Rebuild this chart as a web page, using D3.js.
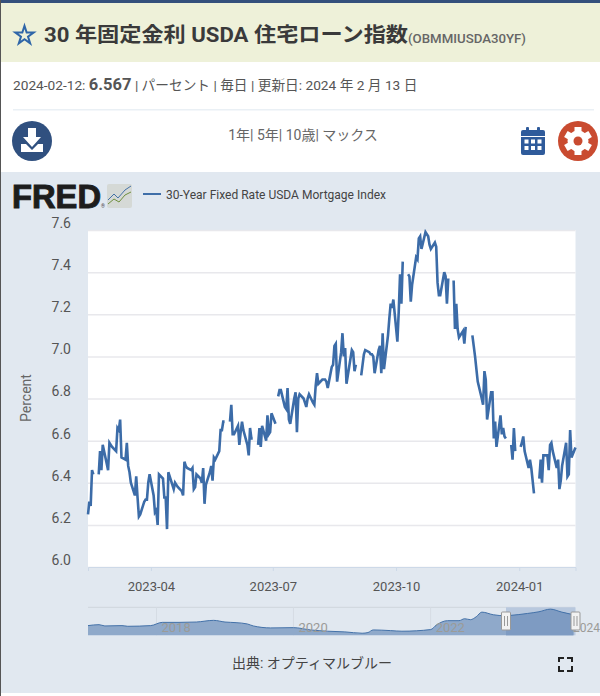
<!DOCTYPE html>
<html>
<head>
<meta charset="utf-8">
<script src="https://cdn.jsdelivr.net/npm/d3@7"></script>
<style>
  html, body { margin: 0; padding: 0; background: #fff; }
  svg { display: block; font-family: Roboto, "Noto Sans CJK JP", sans-serif; }
  .tick text { font-family: Roboto, "Noto Sans CJK JP", sans-serif; }
</style>
</head>
<body>
<svg id="chart" width="600" height="696"></svg>
<script>
// weekdays from 2023-02-13 to 2024-02-12, null = market holiday (gap in the line)
const rateValues = [
  6.25, 6.31, 6.29, 6.46, 6.44,
  null, 6.44, 6.55, 6.46, 6.58,
  6.49, 6.46, 6.59, 6.58, 6.57,
  6.55, 6.66, 6.65, 6.70, 6.52,
  6.51, 6.59, 6.48, 6.45, 6.40,
  6.34, 6.43, 6.33, 6.24, 6.25,
  6.31, 6.32, 6.32, 6.40, 6.44,
  6.34, 6.26, 6.27, 6.20, 6.44,
  6.42, 6.33, 6.33, 6.18, 6.45,
  6.39, 6.37, 6.40, 6.39, 6.38,
  6.36, 6.34, 6.50, 6.48, 6.47,
  6.46, 6.47, 6.37, 6.38, 6.44,
  6.42, 6.40, 6.47, 6.30, 6.39,
  6.45, 6.48, 6.41, 6.52, 6.51,
  6.55, 6.65, 6.65, 6.69, 6.69,
  null, 6.69, 6.77, 6.63, 6.63,
  6.67, 6.58, 6.64, 6.69, 6.65,
  6.58, 6.53, 6.66, 6.61, 6.61,
  null, 6.58, 6.66, 6.57, 6.67,
  6.60, 6.72, 6.63, 6.64, 6.73,
  6.68, null, 6.81, 6.84, 6.84,
  6.76, 6.75, 6.85, 6.70, 6.68,
  6.80, 6.83, 6.64, 6.80, 6.82,
  6.80, 6.78, 6.76, 6.80, 6.82,
  6.78, 6.77, 6.86, 6.92, 6.87,
  6.89, 6.89, 6.89, 6.88, 6.85,
  6.95, 6.96, 7.05, 7.06, 6.88,
  7.02, 7.11, 7.00, 7.04, 6.87,
  6.99, 7.03, 7.02, 6.93, 6.96,
  null, 6.91, 6.96, 7.01, 7.03,
  7.02, 7.01, 7.01, 7.00, 6.92,
  7.03, 7.05, 6.92, 7.11, 6.94,
  7.10, 7.18, 7.25, 7.23, 7.27,
  7.07, 7.21, 7.39, 7.25, 7.45,
  null, 7.39, 7.38, 7.26, 7.34,
  7.47, 7.46, 7.56, 7.57, 7.51,
  7.59, 7.58, 7.57, 7.53, 7.51,
  7.54, 7.52, 7.35, 7.29, 7.29,
  7.40, 7.38, 7.25, 7.37, null,
  7.36, 7.13, 7.25, 7.13, 7.09,
  7.12, 7.06, 7.14, null, null,
  7.10, 7.05, 7.00, 6.94, 6.88,
  6.80, 6.77, 6.93, 6.89, 6.70,
  6.83, 6.83, 6.61, 6.69, 6.57,
  6.72, 6.63, 6.66, 6.62, 6.61,
  null, 6.58, 6.51, 6.66, 6.55,
  null, 6.57, 6.59, 6.62, 6.55,
  6.47, 6.51, 6.47, 6.41, 6.35,
  null, 6.42, 6.51, 6.40, 6.53,
  6.53, 6.46, 6.58, 6.59, 6.55,
  6.47, 6.51, 6.37, 6.41, 6.48,
  6.59, 6.43, 6.44, 6.65, 6.52,
  6.567
];
const yTicks = [6.0, 6.2, 6.4, 6.6, 6.8, 7.0, 7.2, 7.4, 7.6];
const xTicks = ["2023-04-01", "2023-07-01", "2023-10-01", "2024-01-01"];

// overview strip under the chart
const navDates = ["2017-01", "2017-03", "2017-04", "2017-07", "2017-08", "2017-12", "2018-02", "2018-05",
  "2018-08", "2018-11", "2019-01", "2019-03", "2019-05", "2019-06", "2019-09", "2020-01", "2020-04",
  "2020-07", "2020-10", "2021-01", "2021-02", "2021-03", "2021-06", "2021-08", "2022-01", "2022-02",
  "2022-04", "2022-06", "2022-07", "2022-08", "2022-09", "2022-10", "2022-12", "2023-02", "2023-03",
  "2023-06", "2023-08", "2023-10", "2023-12", "2024-02"];
const navValues = [4.63, 4.80, 4.57, 4.63, 4.51, 4.63, 5.21, 5.21,
  5.27, 5.57, 5.27, 5.16, 4.92, 4.57, 4.22, 4.27, 3.86,
  3.63, 3.51, 3.27, 3.39, 3.86, 3.74, 3.63, 3.92, 4.74,
  5.51, 5.51, 5.86, 5.69, 6.21, 7.04, 6.57, 6.39, 6.45,
  6.80, 7.10, 7.57, 7.04, 6.57];
const navYears = [2018, 2020, 2022, 2024];

const parseDay = d3.timeParse("%Y-%m-%d");
const parseMonth = d3.timeParse("%Y-%m");

const firstDay = parseDay("2023-02-13");
const lastDay = parseDay("2024-02-12");
const weekdays = d3.timeDay.range(firstDay, d3.timeDay.offset(lastDay, 1))
  .filter(d => d.getDay() !== 0 && d.getDay() !== 6);
const rates = weekdays.map((d, i) => ({ date: d, value: rateValues[i] }));
const nav = navDates.map((d, i) => ({ date: parseMonth(d), value: navValues[i] }));

const margin = { top: 230, left: 88, right: 24.5, bottom: 129 };
const width = 600;
const height = 696;

const svg = d3.select("#chart");

// page blocks
svg.append("rect").attr("width", width).attr("height", 3).attr("fill", "#34507c");
svg.append("rect").attr("y", 3).attr("width", width).attr("height", 59).attr("fill", "#eef1d9");
svg.append("rect").attr("y", 172).attr("width", width).attr("height", 521).attr("fill", "#e1e8f0");
svg.append("rect").attr("y", 0).attr("width", 1).attr("height", 696).attr("fill", "#555");
svg.append("rect").attr("x", 13).attr("y", 109).attr("width", 581).attr("height", 1.5).attr("fill", "#eaf0f5");

// title row
svg.append("path")
  .attr("d", d3.symbol(d3.symbolStar, 105))
  .attr("transform", "translate(24.5,35.5)")
  .attr("fill", "none").attr("stroke", "#2f66a8").attr("stroke-width", 2);
svg.append("text").attr("x", 44).attr("y", 42)
  .attr("font-size", 20.5).attr("font-weight", 700).attr("fill", "#3a3a3a")
  .attr("textLength", 364).attr("lengthAdjust", "spacingAndGlyphs")
  .text("30 年固定金利 USDA 住宅ローン指数");
svg.append("text").attr("x", 408).attr("y", 43)
  .attr("font-size", 13).attr("font-weight", 500).attr("fill", "#666")
  .attr("textLength", 118).attr("lengthAdjust", "spacingAndGlyphs")
  .text("(OBMMIUSDA30YF)");

const info = svg.append("text").attr("x", 13).attr("y", 90).attr("font-size", 13.7).attr("fill", "#555");
info.append("tspan").text("2024-02-12: ");
info.append("tspan").attr("font-size", 16.5).attr("font-weight", 700).text("6.567");
info.append("tspan").text(" | パーセント | 毎日 | 更新日: 2024 年 2 月 13 日");

svg.append("text").attr("x", 303).attr("y", 140).attr("text-anchor", "middle")
  .attr("font-size", 14).attr("fill", "#666").text("1年| 5年| 10歳| マックス");

// download icon
const dl = svg.append("g").attr("transform", "translate(32,141)");
dl.append("circle").attr("r", 20).attr("fill", "#30507f");
dl.append("path").attr("d", "M-4,-13H4V-4H9L0,6L-9,-4H-4Z").attr("fill", "#fff");
dl.append("path").attr("d", "M-11,3H-6L0,9L6,3H11V11H-11Z").attr("fill", "#fff");

// calendar icon
const cal = svg.append("g").attr("transform", "translate(521,127)");
cal.append("rect").attr("y", 3).attr("width", 24).attr("height", 25).attr("rx", 2).attr("fill", "#2f5b9b");
cal.selectAll("rect.peg").data([5, 16]).join("rect").attr("class", "peg")
  .attr("x", d => d).attr("width", 3).attr("height", 6).attr("rx", 1).attr("fill", "#2f5b9b");
cal.append("rect").attr("x", 0).attr("y", 9).attr("width", 24).attr("height", 1).attr("fill", "#fff");
d3.cross([3.5, 10, 16.5], [12.5, 19]).forEach(([x, y]) => {
  cal.append("rect").attr("x", x).attr("y", y).attr("width", 4).attr("height", 4).attr("fill", "#fff");
});

// settings icon
const gear = svg.append("g").attr("transform", "translate(578,141)");
gear.append("circle").attr("r", 20).attr("fill", "#c94b30");
d3.range(3).forEach(i => {
  gear.append("rect").attr("x", -3.5).attr("y", -14).attr("width", 7).attr("height", 28)
    .attr("fill", "#fff").attr("transform", `rotate(${i * 60})`);
});
gear.append("circle").attr("r", 10.5).attr("fill", "#fff");
gear.append("circle").attr("r", 4.5).attr("fill", "#c94b30");

// FRED logo + legend
svg.append("text").attr("x", 12).attr("y", 208)
  .attr("font-family", "'Liberation Sans', sans-serif")
  .attr("font-size", 33).attr("font-weight", 700).attr("fill", "#1d1d1d")
  .attr("stroke", "#1d1d1d").attr("stroke-width", 1)
  .attr("textLength", 89).attr("lengthAdjust", "spacingAndGlyphs").text("FRED");
svg.append("text").attr("x", 101).attr("y", 208).attr("font-size", 5).attr("fill", "#444").text("®");
const logo = svg.append("g").attr("transform", "translate(107,184)");
logo.append("rect").attr("width", 25).attr("height", 24).attr("rx", 2).attr("fill", "#d5d9d6");
logo.append("path").attr("d", "M1,16L7,10L11,14L18,6L24,2").attr("fill", "none").attr("stroke", "#4572a7");
logo.append("path").attr("d", "M1,20L7,15L12,18L18,11L24,8").attr("fill", "none").attr("stroke", "#6f8f3f");

svg.append("line").attr("x1", 143).attr("x2", 161).attr("y1", 194).attr("y2", 194)
  .attr("stroke", "#3f6ea8").attr("stroke-width", 2);
svg.append("text").attr("x", 166).attr("y", 198.5).attr("font-size", 13).attr("fill", "#444")
  .attr("textLength", 220).attr("lengthAdjust", "spacingAndGlyphs")
  .text("30-Year Fixed Rate USDA Mortgage Index");

// main plot
const xScale = d3.scaleTime()
  .domain([firstDay, lastDay])
  .range([margin.left, width - margin.right]);
const yScale = d3.scaleLinear()
  .domain([6, 7.6])
  .range([height - margin.bottom, margin.top]);

svg.append("rect")
  .attr("x", margin.left).attr("y", margin.top)
  .attr("width", width - margin.left - margin.right)
  .attr("height", height - margin.top - margin.bottom)
  .attr("fill", "#fff");

const yAxis = svg.append("g")
  .attr("transform", "translate(" + margin.left + ",0)")
  .call(d3.axisLeft(yScale).tickValues(yTicks).tickFormat(d3.format(".1f"))
    .tickSize(-(width - margin.left - margin.right)).tickPadding(17));
yAxis.select(".domain").remove();
yAxis.selectAll(".tick line").attr("stroke", "#e8e8ec").attr("stroke-width", 1.5);
yAxis.selectAll(".tick text").attr("dy", "-0.18em").attr("font-size", 14).attr("fill", "#555");

const xAxis = svg.append("g")
  .attr("transform", "translate(0," + (height - margin.bottom) + ")")
  .call(d3.axisBottom(xScale).tickValues(xTicks.map(parseDay)).tickFormat(d3.timeFormat("%Y-%m"))
    .tickSize(4).tickPadding(11));
xAxis.select(".domain").attr("stroke", "#cdd9e8");
xAxis.selectAll(".tick line").attr("stroke", "#cdd9e8");
xAxis.selectAll(".tick text").attr("font-size", 13).attr("fill", "#555");

svg.append("text")
  .attr("transform", "translate(31,398) rotate(-90)")
  .attr("text-anchor", "middle").attr("font-size", 14).attr("fill", "#666").text("Percent");

const line = d3.line()
  .defined(d => d.value != null)
  .x(d => xScale(d.date))
  .y(d => yScale(d.value));

svg.append("path").datum(rates)
  .attr("d", line)
  .attr("fill", "none").attr("stroke", "#3c6ca8").attr("stroke-width", 2.6);

// overview strip
const navX = d3.scaleTime()
  .domain([parseDay("2017-01-01"), lastDay])
  .range([88, 575.5]);
const navY = d3.scaleLinear().domain([2.9, 7.9]).range([635.3, 607.3]);
const navSelX = xScale.range();
const navLeft = 506;

const area = d3.area()
  .x(d => navX(d.date))
  .y0(navY.range()[0])
  .y1(d => navY(d.value))
  .curve(d3.curveMonotoneX);

svg.append("line").attr("x1", 88).attr("x2", 575).attr("y1", 607.3).attr("y2", 607.3)
  .attr("stroke", "#cfd5dc").attr("stroke-width", 1);
svg.selectAll("line.year").data(navYears).join("line").attr("class", "year")
  .attr("x1", d => navX(new Date(d, 0, 1))).attr("x2", d => navX(new Date(d, 0, 1)))
  .attr("y1", 607.3).attr("y2", 635.3).attr("stroke", "#d5dce4");

svg.append("rect").attr("x", navLeft).attr("y", 607.3).attr("width", navSelX[1] - navLeft).attr("height", 28)
  .attr("fill", "#b8c8de");
svg.append("path").datum(nav).attr("d", area).attr("fill", "#8fa9ca");
svg.append("clipPath").attr("id", "sel").append("rect")
  .attr("x", navLeft).attr("y", 600).attr("width", navSelX[1] - navLeft).attr("height", 40);
svg.append("path").datum(nav).attr("d", area).attr("clip-path", "url(#sel)").attr("fill", "#7e9bc2");
svg.append("path").datum(nav).attr("d", area.lineY1())
  .attr("fill", "none").attr("stroke", "#4472a9").attr("stroke-width", 1);

// 2024 sits mostly behind the right handle, right against the page edge
svg.selectAll("text.year").data(navYears).join("text").attr("class", "year")
  .attr("x", d => d === 2024 ? 600 : navX(new Date(d, 0, 1)) + 5)
  .attr("text-anchor", d => d === 2024 ? "end" : "start")
  .attr("y", 632).attr("font-size", d => d === 2024 ? 12 : 13).attr("fill", "#9b9b98")
  .text(d => d);

svg.selectAll("g.handle").data([navLeft, navSelX[1]]).join("g").attr("class", "handle")
  .attr("transform", d => `translate(${d},621)`)
  .each(function () {
    const h = d3.select(this);
    h.append("rect").attr("x", -4.5).attr("y", -9).attr("width", 9).attr("height", 18).attr("rx", 1)
      .attr("fill", "#f2f2f2").attr("stroke", "#999");
    h.selectAll("line").data([-1.5, 1.5]).join("line")
      .attr("x1", d => d).attr("x2", d => d).attr("y1", -5).attr("y2", 5).attr("stroke", "#999");
  });

// footer
svg.append("text").attr("x", 312).attr("y", 668).attr("text-anchor", "middle")
  .attr("font-size", 14).attr("fill", "#444").text("出典: オプティマルブルー");
svg.append("path")
  .attr("d", "M559,662V658H564M567,658H572V662M572,666V671H567M564,671H559V666")
  .attr("fill", "none").attr("stroke", "#222").attr("stroke-width", 2);
</script>
</body>
</html>
